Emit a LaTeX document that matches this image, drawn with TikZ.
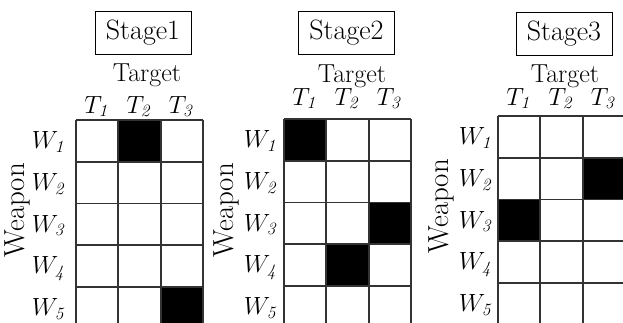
\documentclass[tikz,border=0pt]{standalone}
\tikzset{
  gridline/.style={draw=black!80, line width=1.8pt},
  cellfill/.style={fill=black},
  stagebox/.style={draw=black, line width=1pt, font=\fontsize{28}{32}\selectfont, minimum width=96pt, minimum height=43pt, inner sep=0pt},
  targetlbl/.style={font=\fontsize{26}{30}\selectfont, inner sep=0pt, anchor=base},
  weaponlbl/.style={font=\fontsize{29}{33}\selectfont, inner sep=0pt, rotate=90},
  sublbl/.style={font=\fontsize{23}{27}\selectfont, inner sep=0pt, anchor=base},
}
\newcommand{\cw}{42.3}
\newcommand{\ch}{41.7}
\begin{document}
\begin{tikzpicture}[x=1pt,y=-1pt]
\useasboundingbox (0,0) rectangle (623,322);
\clip (0,0) rectangle (623,322);

% ---------------- Stage 1 ----------------
\node[stagebox] (s1box) at (143,32.5) {Stage1};
\node[targetlbl] (s1target) at (147,81) {Target};
\node[weaponlbl] (s1weapon) at (17,210) {Weapon};
\begin{scope}[shift={(76,120)}]
  \fill[cellfill] (1*\cw,0) rectangle +(\cw,\ch);
  \fill[cellfill] (2*\cw,4*\ch) rectangle +(\cw,\ch);
  \foreach \i in {0,...,3} \draw[gridline] (\i*\cw,0) -- (\i*\cw,220);
  \foreach \j in {0,...,4} \draw[gridline] (0,\j*\ch) -- (3*\cw,\j*\ch);
  \foreach \i in {1,2,3} \node[sublbl] (s1t\i) at ({(\i-0.5)*\cw},-7) {$T_{\mathit{\i}}$};
  \foreach \j in {1,...,5} \node[sublbl] (s1w\j) at (-27,{(\j-0.5)*\ch+8}) {$W_{\mathit{\j}}$};
\end{scope}

% ---------------- Stage 2 ----------------
\node[stagebox] (s2box) at (346.5,32.5) {Stage2};
\node[targetlbl] (s2target) at (352,82) {Target};
\node[weaponlbl] (s2weapon) at (226,210) {Weapon};
\begin{scope}[shift={(284,119)}]
  \fill[cellfill] (0,0) rectangle +(\cw,\ch);
  \fill[cellfill] (2*\cw,2*\ch) rectangle +(\cw,\ch);
  \fill[cellfill] (1*\cw,3*\ch) rectangle +(\cw,\ch);
  \foreach \i in {0,...,3} \draw[gridline] (\i*\cw,0) -- (\i*\cw,220);
  \foreach \j in {0,...,4} \draw[gridline] (0,\j*\ch) -- (3*\cw,\j*\ch);
  \foreach \i in {1,2,3} \node[sublbl] (s2t\i) at ({(\i-0.5)*\cw},-14) {$T_{\mathit{\i}}$};
  \foreach \j in {1,...,5} \node[sublbl] (s2w\j) at (-23,{(\j-0.5)*\ch+8}) {$W_{\mathit{\j}}$};
\end{scope}

% ---------------- Stage 3 ----------------
\node[stagebox] (s3box) at (564,33.5) {Stage3};
\node[targetlbl] (s3target) at (565,82) {Target};
\node[weaponlbl] (s3weapon) at (441,206) {Weapon};
\begin{scope}[shift={(498,116)}]
  \fill[cellfill] (2*\cw,1*\ch) rectangle +(\cw,\ch);
  \fill[cellfill] (0,2*\ch) rectangle +(\cw,\ch);
  \foreach \i in {0,...,3} \draw[gridline] (\i*\cw,0) -- (\i*\cw,220);
  \foreach \j in {0,...,4} \draw[gridline] (0,\j*\ch) -- (3*\cw,\j*\ch);
  \foreach \i in {1,2,3} \node[sublbl] (s3t\i) at ({(\i-0.5)*\cw},-11) {$T_{\mathit{\i}}$};
  \foreach \j in {1,...,5} \node[sublbl] (s3w\j) at (-22,{(\j-0.5)*\ch+8}) {$W_{\mathit{\j}}$};
\end{scope}
\end{tikzpicture}
\end{document}
